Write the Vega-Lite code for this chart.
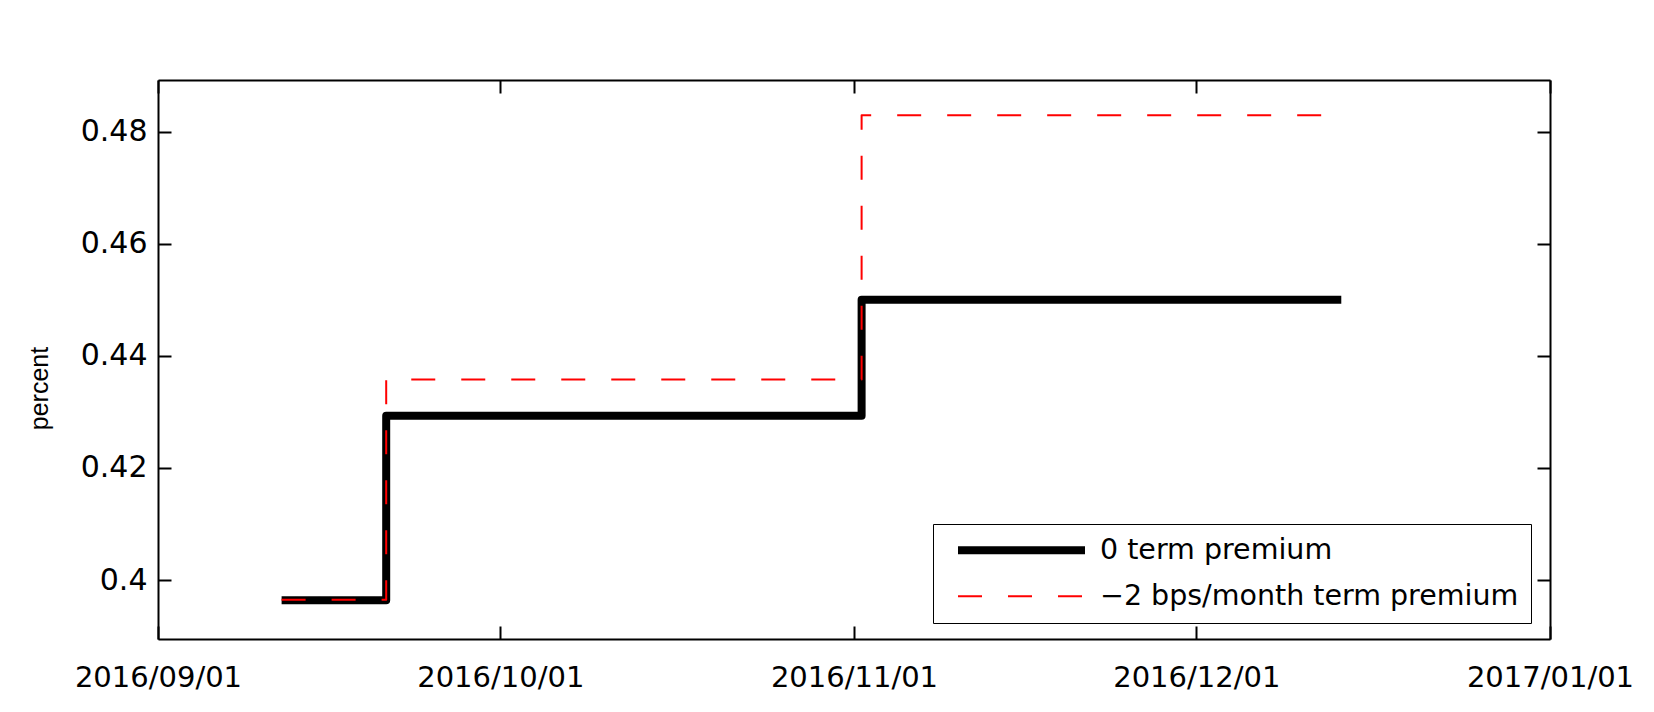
{
  "$schema": "https://vega.github.io/schema/vega-lite/v6.json",
  "width": 1392,
  "height": 559,
  "autosize": {"type": "none"},
  "padding": {"left": 158, "top": 80, "right": 104, "bottom": 73},
  "background": "white",
  "config": {
    "view": {"stroke": null},
    "font": "DejaVu Sans",
    "axis": {
      "labelFont": "DejaVu Sans",
      "titleFont": "Liberation Sans",
      "grid": false,
      "domainColor": "black",
      "domainWidth": 2,
      "tickColor": "black",
      "tickWidth": 2,
      "labelColor": "black",
      "titleColor": "black",
      "titleFontWeight": "normal"
    }
  },
  "data": {
    "values": [
      {"series": "0 term premium", "date": "2016-09-11T20:00:00Z", "value": 0.3964},
      {"series": "0 term premium", "date": "2016-09-21T00:00:00Z", "value": 0.4293},
      {"series": "0 term premium", "date": "2016-11-01T16:00:00Z", "value": 0.4500},
      {"series": "0 term premium", "date": "2016-12-13T17:00:00Z", "value": 0.4500},
      {"series": "−2 bps/month term premium", "date": "2016-09-11T20:00:00Z", "value": 0.3965},
      {"series": "−2 bps/month term premium", "date": "2016-09-21T00:00:00Z", "value": 0.4358},
      {"series": "−2 bps/month term premium", "date": "2016-11-01T16:00:00Z", "value": 0.4829},
      {"series": "−2 bps/month term premium", "date": "2016-12-13T17:00:00Z", "value": 0.4829}
    ]
  },
  "layer": [
    {
      "mark": {"type": "line", "interpolate": "step-after", "strokeJoin": "round", "strokeCap": "butt"},
      "encoding": {
        "x": {
          "field": "date", "type": "temporal",
          "scale": {"type": "utc", "nice": false, "domain": [{"year": 2016, "month": 9, "date": 1, "utc": true}, {"year": 2017, "month": 1, "date": 1, "utc": true}]},
          "axis": {
            "orient": "bottom", "title": null,
            "values": [{"year": 2016, "month": 9, "date": 1, "utc": true}, {"year": 2016, "month": 10, "date": 1, "utc": true}, {"year": 2016, "month": 11, "date": 1, "utc": true}, {"year": 2016, "month": 12, "date": 1, "utc": true}, {"year": 2017, "month": 1, "date": 1, "utc": true}],
            "format": "%Y/%m/%d", "labelFontSize": 29, "tickSize": -13, "labelPadding": 60, "labelBaseline": "alphabetic", "labelDx": -7,
            "labelOverlap": false, "labelFlush": false, "labelBound": false
          }
        },
        "y": {
          "field": "value", "type": "quantitative",
          "scale": {"domain": [0.3895, 0.4892], "zero": false, "nice": false},
          "axis": {
            "orient": "left", "title": "percent",
            "values": [0.4, 0.42, 0.44, 0.46, 0.48], "format": ".2~f",
            "labelFontSize": 30, "tickSize": -13, "labelPadding": 24,
            "titleFontSize": 25, "titleAngle": 270, "titleAlign": "center", "titleBaseline": "middle",
            "titleX": -119, "titleY": 308, "labelOverlap": false
          }
        },
        "color": {
          "field": "series", "type": "nominal",
          "scale": {"domain": ["0 term premium", "−2 bps/month term premium"], "range": ["#000000", "#ff0000"]},
          "legend": {"title": null, "orient": "none", "legendX": 775, "legendY": 444, "symbolType": "M-0.125,0H12.575", "symbolSize": 400, "labelOffset": 126.5, "labelFontSize": 28.5, "labelFont": "DejaVu Sans", "labelColor": "black", "labelLimit": 1000, "strokeColor": "black", "fillColor": "white", "padding": 12, "rowPadding": 15, "cornerRadius": 0}
        },
        "strokeWidth": {
          "field": "series", "type": "nominal",
          "scale": {"type": "ordinal", "domain": ["0 term premium", "−2 bps/month term premium"], "range": [8, 2]},
          "legend": {"title": null, "orient": "none", "legendX": 775, "legendY": 444, "symbolType": "M-0.125,0H12.575", "symbolSize": 400, "labelOffset": 126.5, "labelFontSize": 28.5, "labelFont": "DejaVu Sans", "labelColor": "black", "labelLimit": 1000, "strokeColor": "black", "fillColor": "white", "padding": 12, "rowPadding": 15, "cornerRadius": 0}
        },
        "strokeDash": {
          "field": "series", "type": "nominal",
          "scale": {"domain": ["0 term premium", "−2 bps/month term premium"], "range": [[1, 0], [24, 26]]},
          "legend": {"title": null, "orient": "none", "legendX": 775, "legendY": 444, "symbolType": "M-0.125,0H12.575", "symbolSize": 400, "labelOffset": 126.5, "labelFontSize": 28.5, "labelFont": "DejaVu Sans", "labelColor": "black", "labelLimit": 1000, "strokeColor": "black", "fillColor": "white", "padding": 12, "rowPadding": 15, "cornerRadius": 0}
        }
      }
    },
    {
      "mark": {"type": "line", "opacity": 0},
      "encoding": {
        "x": {
          "field": "date", "type": "temporal",
          "axis": {
            "orient": "top", "title": null, "labels": false,
            "values": [{"year": 2016, "month": 9, "date": 1, "utc": true}, {"year": 2016, "month": 10, "date": 1, "utc": true}, {"year": 2016, "month": 11, "date": 1, "utc": true}, {"year": 2016, "month": 12, "date": 1, "utc": true}, {"year": 2017, "month": 1, "date": 1, "utc": true}],
            "tickSize": -13
          }
        },
        "y": {
          "field": "value", "type": "quantitative",
          "axis": {"orient": "right", "title": null, "labels": false, "values": [0.4, 0.42, 0.44, 0.46, 0.48], "tickSize": -13}
        },
        "detail": {"field": "series"}
      }
    }
  ],
  "resolve": {"axis": {"x": "independent", "y": "independent"}}
}
